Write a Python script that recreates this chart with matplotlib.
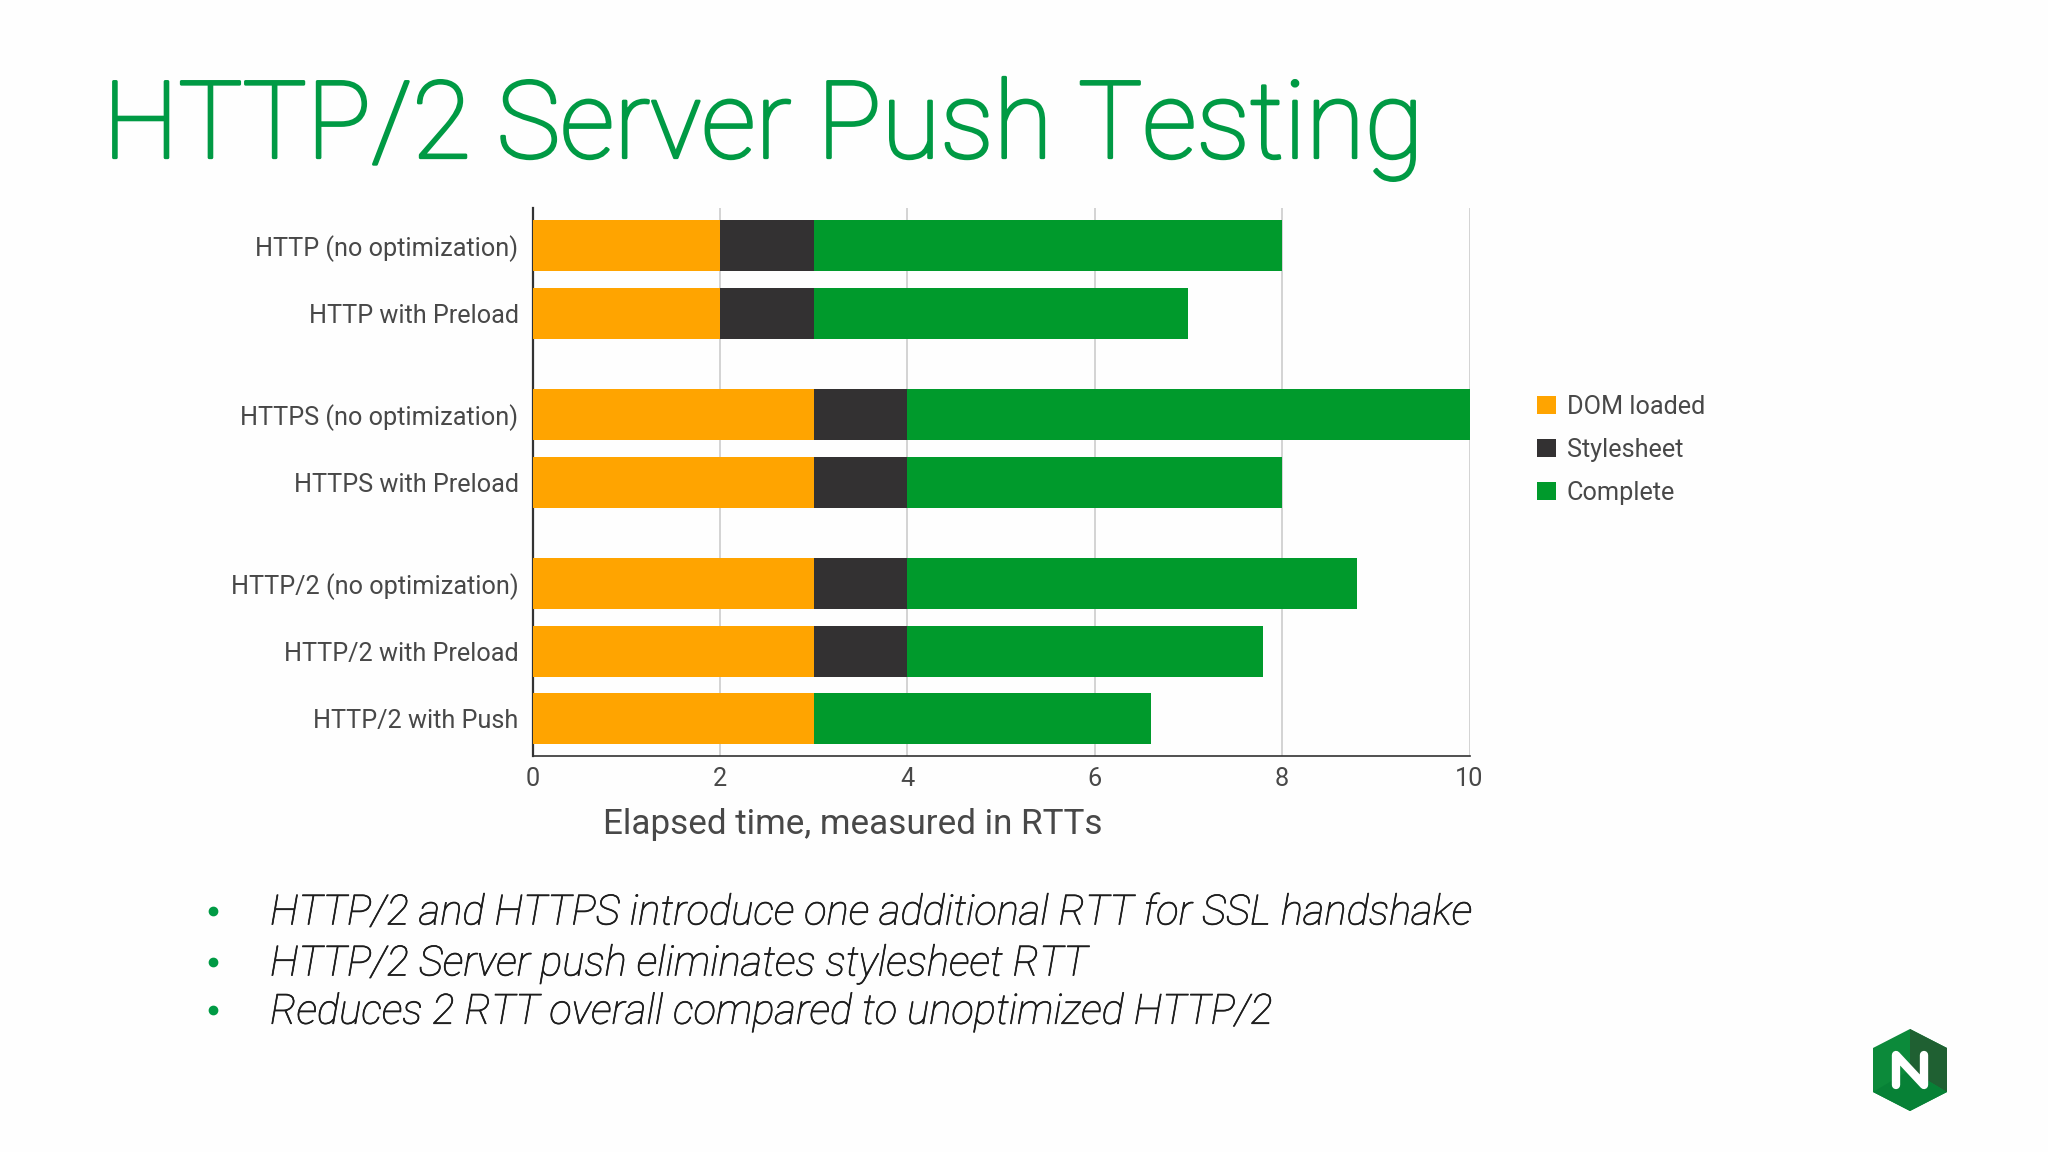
import matplotlib
matplotlib.use('Agg')
import matplotlib.pyplot as plt
import matplotlib.patheffects as pe
from matplotlib.patches import Polygon
import numpy as np

categories = ['HTTP (no optimization)', 'HTTP with Preload',
              'HTTPS (no optimization)', 'HTTPS with Preload',
              'HTTP/2 (no optimization)', 'HTTP/2 with Preload', 'HTTP/2 with Push']
groups = np.array([0, 0, 1, 1, 2, 2, 2])
dom_loaded = np.array([2, 2, 3, 3, 3, 3, 3])
stylesheet = np.array([1, 1, 1, 1, 1, 1, 0])
complete = np.array([5, 4, 6, 4, 4.8, 3.8, 3.6])
xticks = [0, 2, 4, 6, 8, 10]
bullets = ['HTTP/2 and HTTPS introduce one additional RTT for SSL handshake',
           'HTTP/2 Server push eliminates stylesheet RTT',
           'Reduces 2 RTT overall compared to unoptimized HTTP/2']

W, H = 2048, 1152
GREEN = '#009a2c'
ORANGE = '#ffa400'
DARK = '#333132'
TEXT = '#484848'

plt.rcParams['font.family'] = ['Roboto', 'DejaVu Sans']

fig = plt.figure(figsize=(W / 100, H / 100), dpi=100, facecolor='#fefefe')

# overlay in pixel coords for title, bullets and logo
bg = fig.add_axes([0, 0, 1, 1])
bg.set_xlim(0, W)
bg.set_ylim(H, 0)
bg.axis('off')

# light weight plus a thin stroke, the slide font sits between light and regular
title = bg.text(103, 129, 'HTTP/2 Server Push Testing', color='#009a44', fontsize=77.3,
                fontweight='light', va='center', ha='left')
title.set_path_effects([pe.withStroke(linewidth=2, foreground='#009a44')])

bullet_y = [913, 964, 1012]
for y, line in zip(bullet_y, bullets):
    bg.plot([213], [y - 2], 'o', color='#009a44', ms=6)
    t = bg.text(270, y, line, fontsize=30.1, fontstyle='italic', fontweight='light',
                color='#1c1c1c', va='center', ha='left')
    t.set_path_effects([pe.withStroke(linewidth=0.5, foreground='#1c1c1c')])

# logo
bg.add_patch(Polygon([(1910, 1029), (1947, 1048), (1947, 1092), (1910, 1111),
                      (1873, 1092), (1873, 1048)], fc='#0c8a3a', ec='none'))
bg.add_patch(Polygon([(1910, 1029), (1947, 1048), (1947, 1092), (1910, 1070)],
                     fc='#1f6032', ec='none'))
bg.add_patch(Polygon([(1873, 1092), (1910, 1070), (1947, 1092), (1910, 1111)],
                     fc='#078136', ec='none'))
bg.plot([1896, 1896, 1924, 1924], [1085, 1055, 1085, 1055], color='white', lw=6,
        solid_capstyle='round', solid_joinstyle='round')

# chart
ax = fig.add_axes([532.5 / W, 1 - 756 / H, 937 / W, 547.5 / H])
ax.set_facecolor('none')
y = np.arange(len(categories)) + 0.5 * groups
h = 0.75
ax.barh(y, dom_loaded, height=h, color=ORANGE, label='DOM loaded', zorder=3)
ax.barh(y, stylesheet, height=h, left=dom_loaded, color=DARK, label='Stylesheet', zorder=3)
ax.barh(y, complete, height=h, left=dom_loaded + stylesheet, color=GREEN, label='Complete', zorder=3)

ax.set_xlim(0, 10)
ax.set_ylim(7.55, -0.55)
ax.set_xticks(xticks)
ax.set_yticks(y)
ax.set_yticklabels(categories)
ax.tick_params(axis='both', length=0, labelsize=18.2, labelcolor=TEXT)
ax.tick_params(axis='y', pad=10)
ax.tick_params(axis='x', pad=8)
ax.grid(axis='x', color='#cccccc', lw=1.2, zorder=0)
for name in ['top', 'right']:
    ax.spines[name].set_visible(False)
ax.spines['left'].set_color('#333333')
ax.spines['left'].set_linewidth(1.6)
ax.spines['bottom'].set_color('#333333')
ax.spines['bottom'].set_linewidth(1.2)
ax.set_xlabel('Elapsed time, measured in RTTs', fontsize=25.2, color=TEXT, labelpad=12, x=0.342)

leg = ax.legend(loc='upper left', bbox_to_anchor=(1537 / W, 1 - 395 / H),
                bbox_transform=fig.transFigure, frameon=False, fontsize=18.2,
                handlelength=0.75, handleheight=0.75, handletextpad=0.42,
                labelspacing=0.75, borderpad=0, borderaxespad=0, labelcolor=TEXT)

fig.savefig('out.png', dpi=100, facecolor=fig.get_facecolor())
